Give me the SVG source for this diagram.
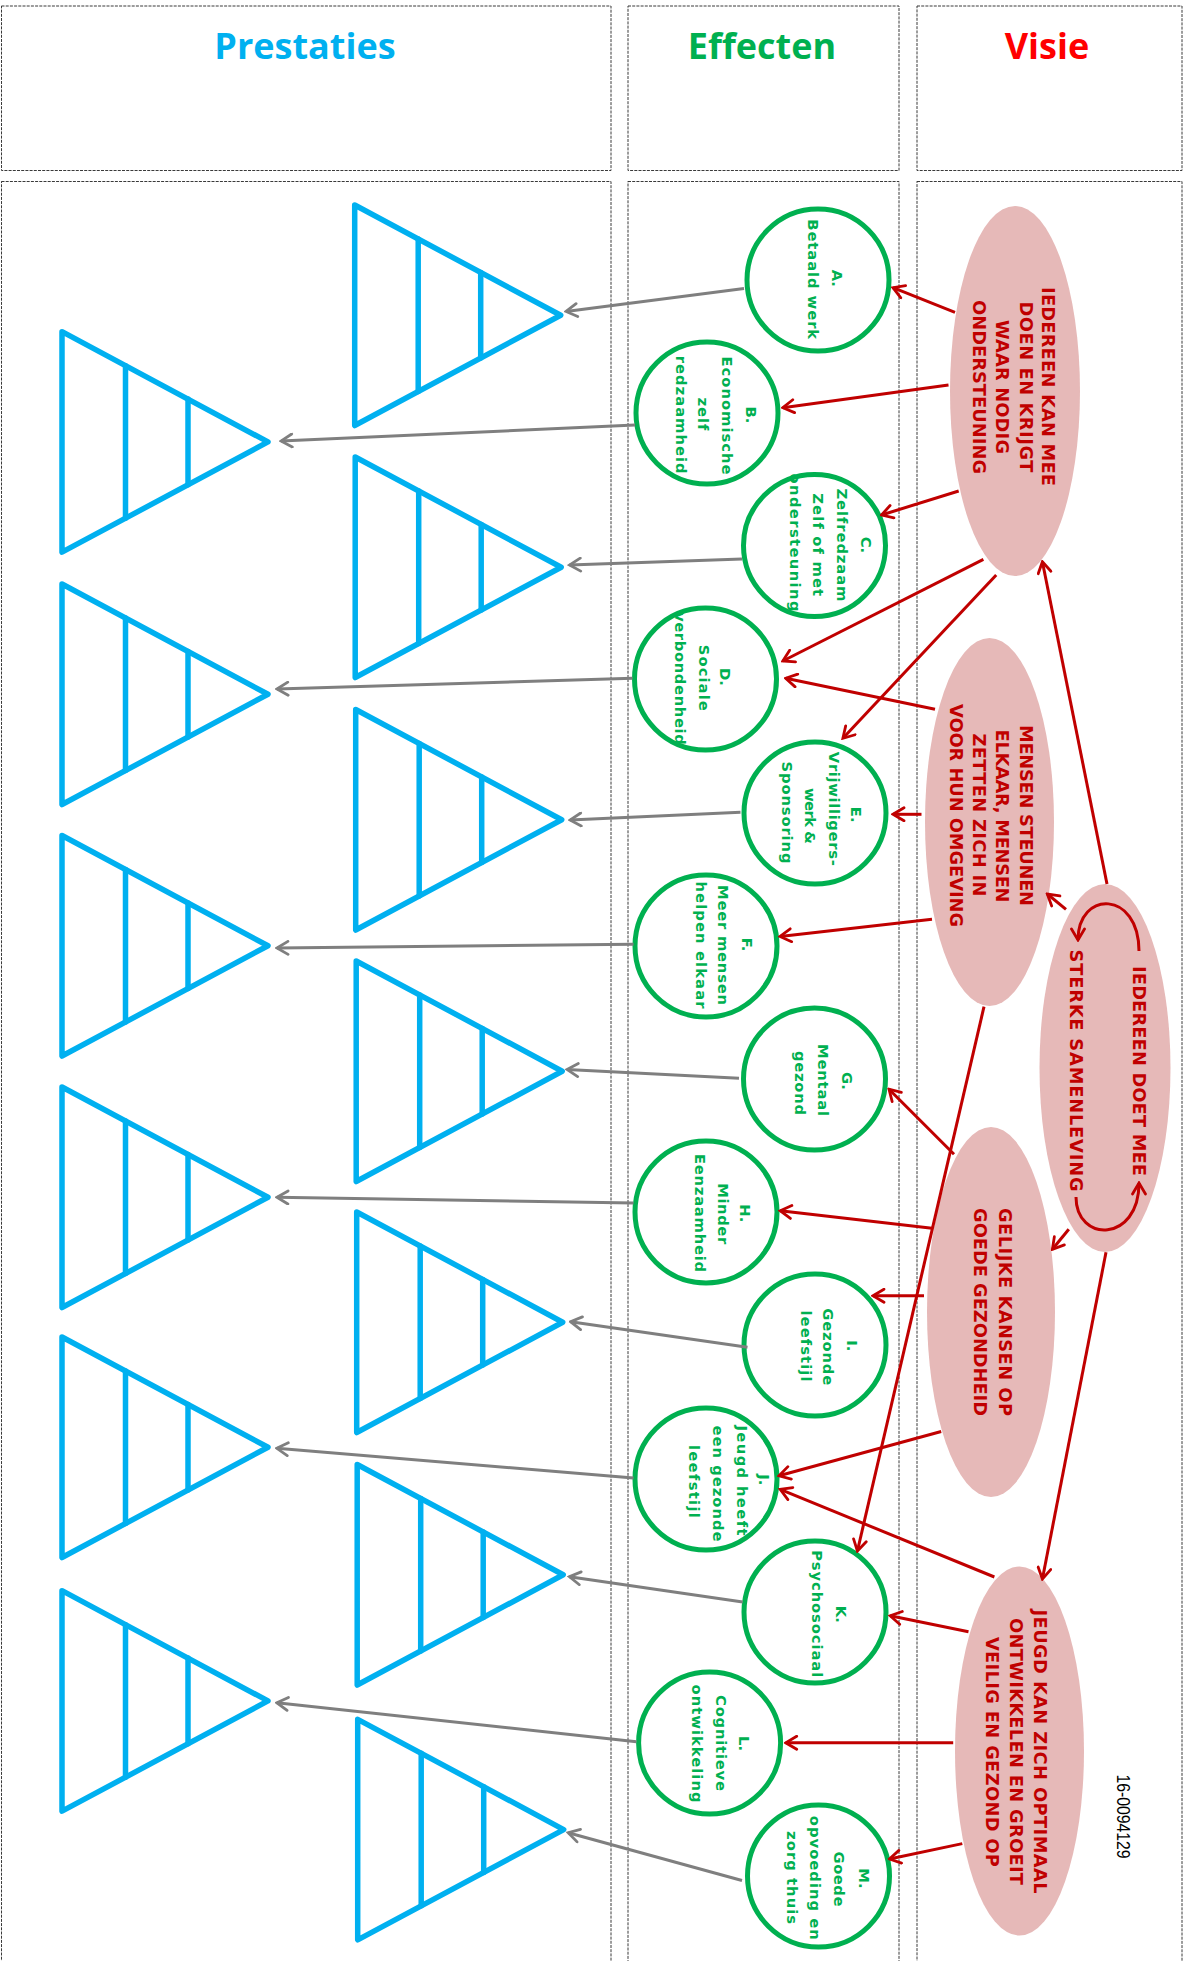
<svg xmlns="http://www.w3.org/2000/svg" width="1187" height="1961" viewBox="0 0 1187 1961">
<style>
.col{fill:none;stroke:#3a3a3a;stroke-width:1;stroke-dasharray:3 1.2}
.ttl{font-family:"Open Sans","Liberation Sans",sans-serif;font-weight:bold;font-size:36px;text-anchor:middle}
.tri{fill:none;stroke:#00B0F0;stroke-width:5.5;stroke-linejoin:round;stroke-linecap:round}
.eff circle{fill:#ffffff;stroke:#00B050;stroke-width:5}
.ct{font-family:"DejaVu Sans",Verdana,sans-serif;font-weight:bold;font-size:14.8px;fill:#00B050;text-anchor:middle}
.vis ellipse{fill:#E6B9B8}
.et{font-family:"DejaVu Sans",Verdana,sans-serif;font-weight:bold;font-size:17.8px;fill:#C00000;text-anchor:middle}
.red{stroke:#C00000;stroke-width:3;fill:none;marker-end:url(#ar)}
.gray{stroke:#7F7F7F;stroke-width:3;fill:none;marker-end:url(#ag)}
.cyc{stroke:#C00000;stroke-width:3;fill:none;marker-end:url(#ar)}
</style>
<defs>
<marker id="ar" viewBox="0 0 16 16" refX="14" refY="8" markerWidth="16" markerHeight="16" markerUnits="userSpaceOnUse" orient="auto"><path d="M3,1.5 L14,8 L3,14.5" fill="none" stroke="#C00000" stroke-width="2.8" stroke-linecap="round" stroke-linejoin="miter"/></marker>
<marker id="ag" viewBox="0 0 16 16" refX="14" refY="8" markerWidth="16" markerHeight="16" markerUnits="userSpaceOnUse" orient="auto"><path d="M3,1.5 L14,8 L3,14.5" fill="none" stroke="#7F7F7F" stroke-width="2.8" stroke-linecap="round" stroke-linejoin="miter"/></marker>
<g id="tri-shape">
<path class="tri" d="M0,0 L206,110.25 L0,220.5 Z"/>
<line class="tri" x1="63.5" y1="34" x2="63.5" y2="186.5"/>
<line class="tri" x1="126" y1="67.4" x2="126" y2="153.1"/>
</g>
</defs>

<g id="columns">
<rect class="col" x="1.5" y="6" width="609.5" height="164.5"/>
<rect class="col" x="628" y="6" width="271" height="164.5"/>
<rect class="col" x="917" y="6" width="265" height="164.5"/>
<rect class="col" x="1.5" y="181.5" width="609.5" height="1800"/>
<rect class="col" x="628" y="181.5" width="271" height="1800"/>
<rect class="col" x="917" y="181.5" width="265" height="1800"/>
<text class="ttl" x="305" y="59" fill="#00B0F0">Prestaties</text>
<text class="ttl" x="762" y="59" fill="#00B050">Effecten</text>
<text class="ttl" x="1047" y="59" fill="#FF0000">Visie</text>
</g>

<g id="prestaties">
<use id="tri-A" href="#tri-shape" x="354.7" y="205"/>
<use id="tri-C" href="#tri-shape" x="355.2" y="457"/>
<use id="tri-E" href="#tri-shape" x="355.7" y="709.5"/>
<use id="tri-G" href="#tri-shape" x="356.2" y="961"/>
<use id="tri-I" href="#tri-shape" x="356.7" y="1212"/>
<use id="tri-K" href="#tri-shape" x="357.2" y="1464.5"/>
<use id="tri-M" href="#tri-shape" x="357.7" y="1719.3"/>
<use id="tri-B" href="#tri-shape" x="62" y="331.7"/>
<use id="tri-D" href="#tri-shape" x="62" y="584"/>
<use id="tri-F" href="#tri-shape" x="62" y="835.5"/>
<use id="tri-H" href="#tri-shape" x="62" y="1087"/>
<use id="tri-J" href="#tri-shape" x="62" y="1337"/>
<use id="tri-L" href="#tri-shape" x="62" y="1590.7"/>
</g>

<g class="eff">
<g id="node-A"><circle cx="818" cy="280" r="71"/>
<text class="ct" transform="translate(832.3,278.3) rotate(90)">A.</text>
<text class="ct" transform="translate(808.3,279.2) rotate(90)" textLength="120" lengthAdjust="spacing">Betaald werk</text></g>
<g id="node-B"><circle cx="707" cy="413" r="71"/>
<text class="ct" transform="translate(745.6,415) rotate(90)">B.</text>
<text class="ct" transform="translate(722.1,415.5) rotate(90)" textLength="118" lengthAdjust="spacing">Economische</text>
<text class="ct" transform="translate(697.5,414) rotate(90)" textLength="33" lengthAdjust="spacing">zelf</text>
<text class="ct" transform="translate(675.9,414.7) rotate(90)" textLength="118" lengthAdjust="spacing">redzaamheid</text></g>
<g id="node-C"><circle cx="814.5" cy="545.5" r="71"/>
<text class="ct" transform="translate(860.7,545) rotate(90)">C.</text>
<text class="ct" transform="translate(836.8,545) rotate(90)" textLength="113" lengthAdjust="spacing">Zelfredzaam</text>
<text class="ct" transform="translate(812.5,544.7) rotate(90)" textLength="103" lengthAdjust="spacing">Zelf of met</text>
<text class="ct" transform="translate(790.2,542.5) rotate(90)" textLength="138" lengthAdjust="spacing">ondersteuning</text></g>
<g id="node-D"><circle cx="705.5" cy="679" r="71"/>
<text class="ct" transform="translate(720,677) rotate(90)">D.</text>
<text class="ct" transform="translate(698.5,677.8) rotate(90)" textLength="66" lengthAdjust="spacing">Sociale</text>
<text class="ct" transform="translate(675.2,678.4) rotate(90)" textLength="133" lengthAdjust="spacing">verbondenheid</text></g>
<g id="node-E"><circle cx="815" cy="813" r="71"/>
<text class="ct" transform="translate(851.2,814.7) rotate(90)">E.</text>
<text class="ct" transform="translate(828.5,808.8) rotate(90)" textLength="114" lengthAdjust="spacing">Vrijwilligers-</text>
<text class="ct" transform="translate(805.2,816) rotate(90)" textLength="56" lengthAdjust="spacing">werk &amp;</text>
<text class="ct" transform="translate(781.5,812.5) rotate(90)" textLength="102" lengthAdjust="spacing">Sponsoring</text></g>
<g id="node-F"><circle cx="706" cy="946" r="71"/>
<text class="ct" transform="translate(741.7,944.5) rotate(90)">F.</text>
<text class="ct" transform="translate(718.3,945) rotate(90)" textLength="120" lengthAdjust="spacing">Meer mensen</text>
<text class="ct" transform="translate(695.8,945) rotate(90)" textLength="127" lengthAdjust="spacing">helpen elkaar</text></g>
<g id="node-G"><circle cx="814.5" cy="1079" r="71"/>
<text class="ct" transform="translate(841.7,1081) rotate(90)">G.</text>
<text class="ct" transform="translate(818.3,1080) rotate(90)" textLength="72" lengthAdjust="spacing">Mentaal</text>
<text class="ct" transform="translate(795,1083) rotate(90)" textLength="64" lengthAdjust="spacing">gezond</text></g>
<g id="node-H"><circle cx="706" cy="1212" r="71"/>
<text class="ct" transform="translate(740.2,1213.3) rotate(90)">H.</text>
<text class="ct" transform="translate(717.7,1213.7) rotate(90)" textLength="61" lengthAdjust="spacing">Minder</text>
<text class="ct" transform="translate(694.8,1213) rotate(90)" textLength="118" lengthAdjust="spacing">Eenzaamheid</text></g>
<g id="node-I"><circle cx="815" cy="1345" r="71"/>
<text class="ct" transform="translate(846.5,1345.8) rotate(90)">I.</text>
<text class="ct" transform="translate(822.8,1346.7) rotate(90)" textLength="77" lengthAdjust="spacing">Gezonde</text>
<text class="ct" transform="translate(800.5,1346) rotate(90)" textLength="71" lengthAdjust="spacing">leefstijl</text></g>
<g id="node-J"><circle cx="706" cy="1479" r="71"/>
<text class="ct" transform="translate(759,1479.7) rotate(90)">J.</text>
<text class="ct" transform="translate(736.7,1480.5) rotate(90)" textLength="110" lengthAdjust="spacing">Jeugd heeft</text>
<text class="ct" transform="translate(713.4,1483.5) rotate(90)" textLength="116" lengthAdjust="spacing">een gezonde</text>
<text class="ct" transform="translate(689.3,1481.4) rotate(90)" textLength="73" lengthAdjust="spacing">leefstijl</text></g>
<g id="node-K"><circle cx="815" cy="1612" r="71"/>
<text class="ct" transform="translate(835.6,1614.3) rotate(90)">K.</text>
<text class="ct" transform="translate(811.7,1613.8) rotate(90)" textLength="127" lengthAdjust="spacing">Psychosociaal</text></g>
<g id="node-L"><circle cx="709.6" cy="1743" r="71"/>
<text class="ct" transform="translate(739.4,1743.5) rotate(90)">L.</text>
<text class="ct" transform="translate(716,1743) rotate(90)" textLength="96" lengthAdjust="spacing">Cognitieve</text>
<text class="ct" transform="translate(691.5,1743.5) rotate(90)" textLength="118" lengthAdjust="spacing">ontwikkeling</text></g>
<g id="node-M"><circle cx="818.5" cy="1876" r="71"/>
<text class="ct" transform="translate(858.5,1878.5) rotate(90)">M.</text>
<text class="ct" transform="translate(834.3,1879) rotate(90)" textLength="55" lengthAdjust="spacing">Goede</text>
<text class="ct" transform="translate(809.5,1877.8) rotate(90)" textLength="124" lengthAdjust="spacing">opvoeding en</text>
<text class="ct" transform="translate(787,1877.6) rotate(90)" textLength="93" lengthAdjust="spacing">zorg thuis</text></g>
</g>

<g class="vis">
<g id="visie-1"><ellipse cx="1015" cy="391" rx="65" ry="185"/>
<text class="et" transform="translate(1042,386.5) rotate(90)" textLength="199" lengthAdjust="spacing">IEDEREEN KAN MEE</text>
<text class="et" transform="translate(1019.5,387) rotate(90)" textLength="171" lengthAdjust="spacing">DOEN EN KRIJGT</text>
<text class="et" transform="translate(996,387) rotate(90)" textLength="134" lengthAdjust="spacing">WAAR NODIG</text>
<text class="et" transform="translate(972.5,387) rotate(90)" textLength="174" lengthAdjust="spacing">ONDERSTEUNING</text></g>
<g id="visie-2"><ellipse cx="989.5" cy="822" rx="64.5" ry="184"/>
<text class="et" transform="translate(1019.5,815.5) rotate(90)" textLength="181" lengthAdjust="spacing">MENSEN STEUNEN</text>
<text class="et" transform="translate(996,816) rotate(90)" textLength="173" lengthAdjust="spacing">ELKAAR, MENSEN</text>
<text class="et" transform="translate(972.5,815) rotate(90)" textLength="163" lengthAdjust="spacing">ZETTEN ZICH IN</text>
<text class="et" transform="translate(949.6,815.5) rotate(90)" textLength="223" lengthAdjust="spacing">VOOR HUN OMGEVING</text></g>
<g id="visie-3"><ellipse cx="1105" cy="1068" rx="65.5" ry="184"/>
<text class="et" transform="translate(1132.7,1071) rotate(90)" textLength="210" lengthAdjust="spacing">IEDEREEN DOET MEE</text>
<text class="et" transform="translate(1069.5,1070.5) rotate(90)" textLength="242" lengthAdjust="spacing">STERKE SAMENLEVING</text>
<path class="cyc" d="M1139,951 C1139,890 1078,890 1078,940"/>
<path class="cyc" d="M1076,1197 C1076,1243 1139,1243 1139,1183"/></g>
<g id="visie-4"><ellipse cx="991" cy="1312" rx="64" ry="185"/>
<text class="et" transform="translate(998.7,1312) rotate(90)" textLength="208" lengthAdjust="spacing">GELIJKE KANSEN OP</text>
<text class="et" transform="translate(974,1312) rotate(90)" textLength="208" lengthAdjust="spacing">GOEDE GEZONDHEID</text></g>
<g id="visie-5"><ellipse cx="1019.5" cy="1751" rx="64.5" ry="184.6"/>
<text class="et" transform="translate(1034.4,1751.5) rotate(90)" textLength="284" lengthAdjust="spacing">JEUGD KAN ZICH OPTIMAAL</text>
<text class="et" transform="translate(1010.4,1751.5) rotate(90)" textLength="267" lengthAdjust="spacing">ONTWIKKELEN EN GROEIT</text>
<text class="et" transform="translate(986,1751.9) rotate(90)" textLength="230" lengthAdjust="spacing">VEILIG EN GEZOND OP</text></g>
</g>

<text id="code" transform="translate(1117,1816.5) rotate(90)" font-family="'Liberation Sans',Arial,sans-serif" font-size="19" fill="#000" text-anchor="middle" textLength="84" lengthAdjust="spacingAndGlyphs">16-0094129</text>

<g id="connectors">
<line class="gray" x1="744" y1="288.5" x2="566" y2="311.5"/>
<line class="gray" x1="635" y1="425" x2="281" y2="441"/>
<line class="gray" x1="742" y1="559" x2="569.5" y2="565"/>
<line class="gray" x1="632.5" y1="678.3" x2="277" y2="689"/>
<line class="gray" x1="740.5" y1="812.3" x2="570" y2="820"/>
<line class="gray" x1="633.5" y1="944.3" x2="277" y2="948"/>
<line class="gray" x1="739" y1="1078.3" x2="567" y2="1069.5"/>
<line class="gray" x1="633.5" y1="1203" x2="277" y2="1197.3"/>
<line class="gray" x1="747.5" y1="1347.3" x2="570.6" y2="1321.7"/>
<line class="gray" x1="633.5" y1="1478" x2="276.8" y2="1448.3"/>
<line class="gray" x1="742.7" y1="1602" x2="569.4" y2="1576.7"/>
<line class="gray" x1="636.4" y1="1741.7" x2="276.8" y2="1702.7"/>
<line class="gray" x1="742" y1="1880.5" x2="568.2" y2="1832.7"/>

<line class="red" x1="955" y1="312.3" x2="893" y2="287.7"/>
<line class="red" x1="948.5" y1="385" x2="782.8" y2="407.7"/>
<line class="red" x1="958.7" y1="491" x2="881.5" y2="515"/>
<line class="red" x1="983.4" y1="559.3" x2="782.8" y2="661"/>
<line class="red" x1="996.2" y1="575" x2="842.9" y2="738.3"/>
<line class="red" x1="1107" y1="884" x2="1042.4" y2="561.7"/>
<line class="red" x1="935" y1="709.3" x2="785.7" y2="678.3"/>
<line class="red" x1="921.5" y1="814.3" x2="893" y2="814.3"/>
<line class="red" x1="932" y1="919.3" x2="780" y2="936.5"/>
<line class="red" x1="984" y1="1006.7" x2="857.4" y2="1551"/>
<line class="red" x1="1066" y1="909.3" x2="1047.3" y2="894"/>
<line class="red" x1="954" y1="1154.3" x2="889" y2="1089.2"/>
<line class="red" x1="932" y1="1228.3" x2="780.2" y2="1210.7"/>
<line class="red" x1="924" y1="1295.7" x2="873" y2="1295.7"/>
<line class="red" x1="941.2" y1="1431.5" x2="779" y2="1475.8"/>
<line class="red" x1="1068.8" y1="1229.3" x2="1052.4" y2="1249.3"/>
<line class="red" x1="1106" y1="1252.3" x2="1042.4" y2="1579"/>
<line class="red" x1="994.4" y1="1577" x2="780.2" y2="1489.4"/>
<line class="red" x1="968.5" y1="1631.8" x2="890.2" y2="1615.7"/>
<line class="red" x1="953.2" y1="1742.8" x2="785.7" y2="1742.8"/>
<line class="red" x1="962.3" y1="1843.6" x2="889.5" y2="1859"/>
</g>
</svg>
